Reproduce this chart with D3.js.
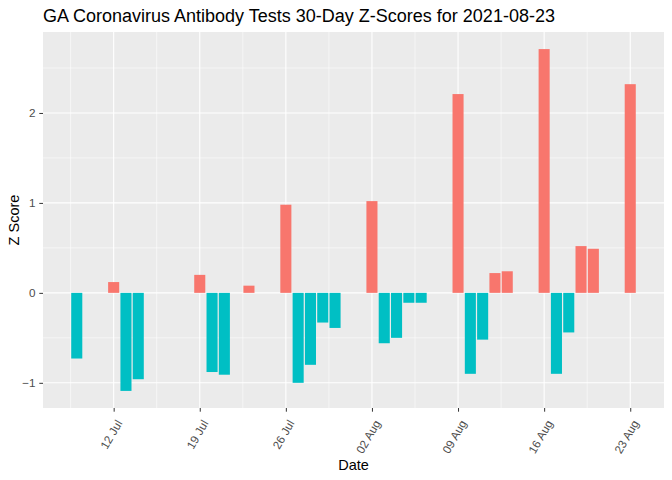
<!DOCTYPE html>
<html>
<head>
<meta charset="utf-8">
<script src="https://cdn.jsdelivr.net/npm/d3@7"></script>
<style>
  body { margin: 0; background: #fff; }
  text { font-family: "Liberation Sans", Arial, sans-serif; }
</style>
</head>
<body>
<div id="chart"></div>
<script>
// Data
const dates = ["2021-07-09","2021-07-12","2021-07-13","2021-07-14","2021-07-19","2021-07-20",
  "2021-07-21","2021-07-23","2021-07-26","2021-07-27","2021-07-28","2021-07-29","2021-07-30",
  "2021-08-02","2021-08-03","2021-08-04","2021-08-05","2021-08-06","2021-08-09","2021-08-10",
  "2021-08-11","2021-08-12","2021-08-13","2021-08-16","2021-08-17","2021-08-18","2021-08-19",
  "2021-08-20","2021-08-23"];
const zScores = [-0.73, 0.12, -1.09, -0.96, 0.20, -0.88, -0.91, 0.08, 0.98, -1.00, -0.80, -0.33, -0.39,
  1.02, -0.56, -0.50, -0.11, -0.11, 2.21, -0.90, -0.52, 0.22, 0.24, 2.71, -0.90, -0.44, 0.52,
  0.49, 2.32];
const xTicks = ["2021-07-12","2021-07-19","2021-07-26","2021-08-02","2021-08-09","2021-08-16","2021-08-23"];
const yTicks = [-1, 0, 1, 2];

const parse = d3.utcParse("%Y-%m-%d");
const data = dates.map((d, i) => ({ date: parse(d), z: zScores[i] }));
const DAY = 864e5;

const W = 672, H = 480;
const margin = { top: 32, right: 8, bottom: 72, left: 43 };
const width = W - margin.left - margin.right,
      height = H - margin.top - margin.bottom;

const svg = d3.select("#chart").append("svg")
    .attr("width", W).attr("height", H);

// Scales with ggplot-like 5% expansion
const xMin = d3.min(data, d => +d.date) - 0.45 * DAY,
      xMax = d3.max(data, d => +d.date) + 0.45 * DAY,
      xPad = (xMax - xMin) * 0.05;
const x = d3.scaleUtc().domain([xMin - xPad, xMax + xPad]).range([0, width]);

const yMin = Math.min(0, d3.min(zScores)), yMax = Math.max(0, d3.max(zScores)),
      yPad = (yMax - yMin) * 0.05;
const y = d3.scaleLinear().domain([yMin - yPad, yMax + yPad]).range([height, 0]);

const g = svg.append("g").attr("transform", `translate(${margin.left},${margin.top})`);

// Panel background
g.append("rect").attr("width", width).attr("height", height).attr("fill", "#EBEBEB");

// Grid lines
const xMajor = xTicks.map(parse);
const xMinor = xMajor.map(d => new Date(+d - 3.5 * DAY)).concat([new Date(+xMajor[xMajor.length - 1] + 3.5 * DAY)])
    .filter(d => x(d) > 0 && x(d) < width);
const yMinor = yTicks.map(v => v + 0.5).concat([yTicks[0] - 0.5])
    .filter(v => y(v) > 0 && y(v) < height);

g.selectAll(".xminor").data(xMinor).enter().append("line")
    .attr("x1", d => x(d)).attr("x2", d => x(d)).attr("y1", 0).attr("y2", height)
    .attr("stroke", "#fff").attr("stroke-width", 0.55);
g.selectAll(".yminor").data(yMinor).enter().append("line")
    .attr("y1", d => y(d)).attr("y2", d => y(d)).attr("x1", 0).attr("x2", width)
    .attr("stroke", "#fff").attr("stroke-width", 0.55);
g.selectAll(".xmajor").data(xMajor).enter().append("line")
    .attr("x1", d => x(d)).attr("x2", d => x(d)).attr("y1", 0).attr("y2", height)
    .attr("stroke", "#fff").attr("stroke-width", 1.1);
g.selectAll(".ymajor").data(yTicks).enter().append("line")
    .attr("y1", d => y(d)).attr("y2", d => y(d)).attr("x1", 0).attr("x2", width)
    .attr("stroke", "#fff").attr("stroke-width", 1.1);

// Bars
const bw = x(new Date(+xMajor[0] + 0.9 * DAY)) - x(xMajor[0]);
g.selectAll(".bar").data(data).enter().append("rect")
    .attr("x", d => x(d.date) - bw / 2)
    .attr("width", bw)
    .attr("y", d => y(Math.max(0, d.z)))
    .attr("height", d => Math.abs(y(d.z) - y(0)))
    .attr("fill", d => d.z > 0 ? "#F8766D" : "#00BFC4");

// Axes
const xAxis = g.append("g").attr("transform", `translate(0,${height})`)
    .call(d3.axisBottom(x).tickValues(xMajor).tickFormat(d3.utcFormat("%d %b")).tickSizeOuter(0).tickSize(3.7));
xAxis.select(".domain").remove();
xAxis.selectAll(".tick line").attr("stroke", "#333");
xAxis.selectAll("text")
    .attr("fill", "#4D4D4D").style("font-size", "11.7px")
    .attr("y", 0).attr("dy", "0.35em")
    .attr("text-anchor", "end")
    .attr("transform", "translate(5,13) rotate(-60)");

const yAxis = g.append("g")
    .call(d3.axisLeft(y).tickValues(yTicks).tickFormat(d3.format("d")).tickSizeOuter(0).tickSize(3.7));
yAxis.select(".domain").remove();
yAxis.selectAll(".tick line").attr("stroke", "#333");
yAxis.selectAll("text").attr("fill", "#4D4D4D").style("font-size", "11.7px").attr("x", -7.5);

// Titles
svg.append("text").attr("x", margin.left).attr("y", 22)
    .style("font-size", "18px").attr("fill", "#000")
    .text("GA Coronavirus Antibody Tests 30-Day Z-Scores for 2021-08-23");
svg.append("text").attr("x", margin.left + width / 2).attr("y", 470)
    .attr("text-anchor", "middle").style("font-size", "14.5px").attr("fill", "#000")
    .text("Date");
svg.append("text").attr("transform", `translate(19,${margin.top + height / 2}) rotate(-90)`)
    .attr("text-anchor", "middle").style("font-size", "14.5px").attr("fill", "#000")
    .text("Z Score");
</script>
</body>
</html>
